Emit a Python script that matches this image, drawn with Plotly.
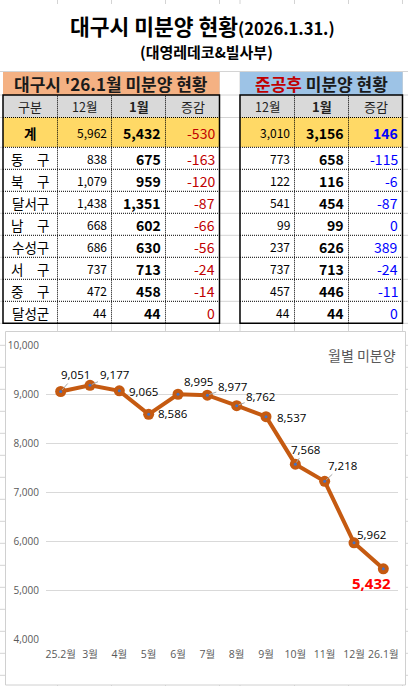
import plotly.graph_objects as go

W, H = 408, 686

# 대구시 '26.1월 미분양 현황
gu_names = ["계", "동\u3000구", "북\u3000구", "달서구", "남\u3000구", "수성구", "서\u3000구", "중\u3000구", "달성군"]
dec_all = [5962, 838, 1079, 1438, 668, 686, 737, 472, 44]
jan_all = [5432, 675, 959, 1351, 602, 630, 713, 458, 44]
chg_all = [-530, -163, -120, -87, -66, -56, -24, -14, 0]

# 준공후 미분양 현황
dec_done = [3010, 773, 122, 541, 99, 237, 737, 457, 44]
jan_done = [3156, 658, 116, 454, 99, 626, 713, 446, 44]
chg_done = [146, -115, -6, -87, 0, 389, -24, -11, 0]

# 월별 미분양
months = ["25.2월", "3월", "4월", "5월", "6월", "7월", "8월", "9월", "10월", "11월", "12월", "26.1월"]
unsold = [9051, 9177, 9065, 8586, 8995, 8977, 8762, 8537, 7568, 7218, 5962, 5432]
y_ticks = [4000, 5000, 6000, 7000, 8000, 9000, 10000]

# label placement (pixel offsets from the point) and leader-line flags
lab_dx = [15, 24, 24.5, 24.7, 20, 25, 24, 25, 10, 17.4, 17, -12]
lab_dy = [-17, -11, 0.5, -1, -13, -8.5, -9, 0.5, -15, -16, -8, 14.5]
leader = [True, True, False, False, False, True, True, False, True, True, False, False]

KR = "Noto Sans CJK KR"
LAT = "Open Sans, Noto Sans CJK KR"


def px(x):
    return x / W


def py(y):
    return 1 - y / H


def fmt(v):
    return f"{v:,}"


L_EDGES = [3, 57.5, 111.5, 165.5, 219.5]
R_EDGES = [240, 294.5, 348.5, 402.5]
BAN_TOP, HEAD_TOP, HEAD_BOT, SUM_BOT, ROW_H = 72, 95, 117.5, 147.3, 22
BODY_BOT = SUM_BOT + ROW_H * (len(gu_names) - 1)

fig = go.Figure()

# ---- line chart ----
fig.add_trace(go.Scatter(
    x=months, y=unsold, mode="lines+markers",
    line=dict(color="#C55A11", width=4),
    marker=dict(size=11, color="#C55A11"),
    hoverinfo="skip", showlegend=False,
))
fig.add_trace(go.Scatter(
    x=months, y=unsold, mode="markers",
    marker=dict(size=3, color="#4472C4"),
    hoverinfo="skip", showlegend=False,
))

shapes = []
# spreadsheet grid in the background
grid = dict(type="line", xref="paper", yref="paper", layer="below",
            line=dict(color="#D4D4D4", width=1))
for gx in L_EDGES[1:] + R_EDGES:
    shapes.append(dict(grid, x0=px(gx), x1=px(gx), y0=0, y1=1))
gy_list = [71.5, HEAD_TOP, HEAD_BOT]
gy = SUM_BOT
while gy < H:
    gy_list.append(gy)
    gy += ROW_H
for g in gy_list:
    shapes.append(dict(grid, x0=0, x1=1, y0=py(g), y1=py(g)))

box = dict(type="rect", xref="paper", yref="paper", layer="below")
# merged title cells
shapes.append(dict(box, x0=0, x1=1, y0=py(71), y1=py(4), fillcolor="white", line=dict(width=0)))
# banners
shapes.append(dict(box, x0=px(L_EDGES[0]), x1=px(L_EDGES[-1]), y0=py(HEAD_TOP), y1=py(BAN_TOP),
                   fillcolor="#F4B183", line=dict(width=0)))
shapes.append(dict(box, x0=px(R_EDGES[0]), x1=px(R_EDGES[-1]), y0=py(HEAD_TOP), y1=py(BAN_TOP),
                   fillcolor="#9DC3E6", line=dict(width=0)))
# table fills
for edges in (L_EDGES, R_EDGES):
    shapes.append(dict(box, x0=px(edges[0]), x1=px(edges[-1]), y0=py(HEAD_BOT), y1=py(HEAD_TOP),
                       fillcolor="#D9D9D9", line=dict(width=0)))
    shapes.append(dict(box, x0=px(edges[0]), x1=px(edges[-1]), y0=py(SUM_BOT), y1=py(HEAD_BOT),
                       fillcolor="#FFD966", line=dict(width=0)))
    shapes.append(dict(box, x0=px(edges[0]), x1=px(edges[-1]), y0=py(BODY_BOT), y1=py(SUM_BOT),
                       fillcolor="white", line=dict(width=0)))
# chart frame
shapes.append(dict(box, x0=px(5.5), x1=px(405.5), y0=py(685), y1=py(331.5), fillcolor="white",
                   line=dict(color="#D0D0D0", width=1)))

# table borders
dot = dict(type="line", xref="paper", yref="paper", layer="above",
           line=dict(color="black", width=1, dash="1px,1px"))
for edges in (L_EDGES, R_EDGES):
    for ex in edges[1:-1]:
        shapes.append(dict(dot, x0=px(ex), x1=px(ex), y0=py(BODY_BOT), y1=py(HEAD_TOP)))
    ys = [HEAD_BOT, SUM_BOT] + [SUM_BOT + ROW_H * k for k in range(1, len(gu_names) - 1)]
    for ey in ys:
        shapes.append(dict(dot, x0=px(edges[0]), x1=px(edges[-1]), y0=py(ey), y1=py(ey)))
    shapes.append(dict(type="rect", xref="paper", yref="paper", layer="above",
                       x0=px(edges[0]), x1=px(edges[-1]), y0=py(BODY_BOT), y1=py(HEAD_TOP),
                       line=dict(color="black", width=1.5)))

annotations = [
    dict(text="<b>대구시 미분양 현황</b><b><span style='font-size:16.5px'>(2026.1.31.)</span></b>",
         x=px(202), y=py(25), font=dict(family=KR, size=21.5, color="black")),
    dict(text="<b>(대영레데코&amp;빌사부)</b>", x=px(206), y=py(51.5),
         font=dict(family=KR, size=15, color="black")),
    dict(text="<b>대구시 '26.1월 미분양 현황</b>", x=px(111), y=py(83.5),
         font=dict(family=KR, size=17, color="#1a1a1a")),
    dict(text="<b><span style='color:#C00000'>준공후</span> 미분양 현황</b>", x=px(321), y=py(83.5),
         font=dict(family=KR, size=17, color="#1a1a1a")),
    dict(text="월별 미분양", x=px(398), y=py(355), xanchor="right",
         font=dict(family=KR, size=14, color="#595959")),
]


def row_mid(r):
    if r == 0:
        return (HEAD_BOT + SUM_BOT) / 2
    return SUM_BOT + ROW_H * (r - 0.5)


def add_column(left, right, texts, size, color, align, bold=False):
    for r, t in enumerate(texts):
        txt = f"<b>{t}</b>" if bold or (r == 0 and align == "center") else t
        if align == "center":
            xx, anc = (left + right) / 2, "center"
        else:
            xx, anc = right - 2.5, "right"
        annotations.append(dict(text=txt, x=px(xx), y=py(row_mid(r) + 0.5), xanchor=anc,
                                font=dict(family=KR, size=size, color=color)))


def add_header(edges, labels):
    for i, lab in enumerate(labels):
        annotations.append(dict(text=lab, x=px((edges[i] + edges[i + 1]) / 2),
                                y=py((HEAD_TOP + HEAD_BOT) / 2 + 0.5),
                                font=dict(family=KR, size=13 if "12" not in lab else 12.5,
                                          color="#222222")))


add_header(L_EDGES, ["구분", "12월", "<b>1월</b>", "증감"])
add_column(L_EDGES[0], L_EDGES[1], gu_names, 13.5, "black", "center")
add_column(L_EDGES[1], L_EDGES[2], [fmt(v) for v in dec_all], 12, "black", "right")
add_column(L_EDGES[2], L_EDGES[3], [fmt(v) for v in jan_all], 14, "black", "right", bold=True)
add_column(L_EDGES[3], L_EDGES[4], [fmt(v) for v in chg_all], 14, "#C00000", "right")

add_header(R_EDGES, ["12월", "<b>1월</b>", "증감"])
add_column(R_EDGES[0], R_EDGES[1], [fmt(v) for v in dec_done], 12, "black", "right")
add_column(R_EDGES[1], R_EDGES[2], [fmt(v) for v in jan_done], 14, "black", "right", bold=True)
add_column(R_EDGES[2], R_EDGES[3],
           [f"<b>{fmt(v)}</b>" if i == 0 else fmt(v) for i, v in enumerate(chg_done)],
           14, "#0000FF", "right")

for a in annotations:
    a.setdefault("xref", "paper")
    a.setdefault("yref", "paper")
    a.setdefault("xanchor", "center")
    a.setdefault("yanchor", "middle")
    a.setdefault("showarrow", False)

for i, (m, v) in enumerate(zip(months, unsold)):
    last = i == len(unsold) - 1
    txt = f"<b>{fmt(v)}</b>" if last else fmt(v)
    fnt = dict(family=LAT, size=15 if last else 11.5, color="#FF0000" if last else "black")
    if leader[i]:
        annotations.append(dict(x=m, y=v, xref="x", yref="y", text=txt, font=fnt,
                                showarrow=True, arrowhead=0, arrowwidth=1, arrowcolor="#A6A6A6",
                                ax=lab_dx[i], ay=lab_dy[i], standoff=2))
    else:
        annotations.append(dict(x=m, y=v, xref="x", yref="y", text=txt, font=fnt,
                                showarrow=False, xshift=lab_dx[i], yshift=-lab_dy[i]))

fig.update_layout(
    width=W, height=H,
    margin=dict(l=0, r=0, t=0, b=0),
    paper_bgcolor="white", plot_bgcolor="white",
    showlegend=False,
    shapes=shapes,
    annotations=annotations,
    xaxis=dict(domain=[px(46), px(398)], type="category", range=[-0.5, len(months) - 0.5],
               showgrid=False, showline=False, zeroline=False, ticks="", tickangle=0,
               automargin=False, fixedrange=True,
               tickfont=dict(family=LAT, size=10.5, color="#595959"), ticklabelstandoff=7),
    yaxis=dict(domain=[py(639), py(345)], range=[4000, 10000], tickvals=y_ticks, tickformat=",",
               showgrid=True, gridcolor="#D9D9D9", gridwidth=1, zeroline=False, showline=False,
               automargin=False, fixedrange=True,
               ticks="", tickfont=dict(family=LAT, size=10, color="#595959"), ticklabelstandoff=6),
)

fig.write_html("out.html", config={"displayModeBar": False},
               post_script="document.body.style.margin='0px';")
